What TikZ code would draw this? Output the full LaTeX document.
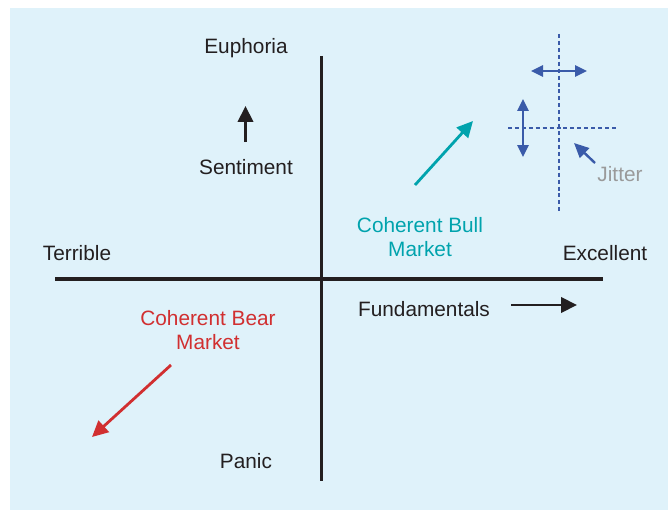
\documentclass[tikz,border=0pt]{standalone}
\usepackage{fontspec}
\setmainfont{Liberation Sans}
\usetikzlibrary{arrows.meta}
\definecolor{bgblue}{HTML}{DFF2FA}
\definecolor{inkblack}{HTML}{231F20}
\definecolor{bullteal}{HTML}{00A3AD}
\definecolor{bearred}{HTML}{D12F30}
\definecolor{jitblue}{HTML}{3A5BA9}
\definecolor{jitgray}{HTML}{9A9A9A}
\tikzset{
  lbl/.style={inner sep=0pt, font=\fontsize{15.6}{18.5}\selectfont, text=inkblack, align=center},
  axis/.style={line width=2.3pt, draw=inkblack},
  bigarrow/.style={line width=2.1pt, -{Triangle[length=12pt,width=11.5pt]}},
  jitarrow/.style={line width=1.2pt, draw=jitblue, {Triangle[length=9pt,width=8.5pt]}-{Triangle[length=9pt,width=8.5pt]}},
  jitdash/.style={line width=0.8pt, draw=jitblue, dash pattern=on 3pt off 2.2pt}
}
\begin{document}
\begin{tikzpicture}[x=0.75pt,y=-0.75pt]
\useasboundingbox (0,0) rectangle (668,510);
\fill[bgblue] (10,8) rectangle (668,510);
% axes
\coordinate (vtop) at (321.5,56);
\coordinate (vbot) at (321.5,481);
\coordinate (hleft) at (55,279);
\coordinate (hright) at (603,279);
\draw[axis] (vtop) -- (vbot);
\draw[axis] (hleft) -- (hright);
% labels
\node[lbl] (euph) at (246,48) {Euphoria};
\node[lbl] (sent) at (246,167) {Sentiment};
\node[lbl] (terr) at (77,253) {Terrible};
\node[lbl] (exc) at (605,253) {Excellent};
\node[lbl] (fund) at (424,309) {Fundamentals};
\node[lbl] (panic) at (246,461) {Panic};
\node[lbl, text=bullteal] (bull) at (420,237) {Coherent Bull\\Market};
\node[lbl, text=bearred] (bear) at (208,330) {Coherent Bear\\Market};
\node[lbl, text=jitgray] (jit) at (620,174) {Jitter};
% arrows
\coordinate (sa0) at (245.5,142);
\coordinate (sa1) at (245.5,106);
\draw[bigarrow, draw=inkblack, fill=inkblack] (sa0) -- (sa1);
\coordinate (fa0) at (511,305);
\coordinate (fa1) at (577,305);
\draw[bigarrow, draw=inkblack, fill=inkblack] (fa0) -- (fa1);
\coordinate (ba0) at (415,185);
\coordinate (ba1) at (473,121);
\draw[bigarrow, draw=bullteal, fill=bullteal] (ba0) -- (ba1);
\coordinate (ra0) at (171,365);
\coordinate (ra1) at (92,437);
\draw[bigarrow, draw=bearred, fill=bearred] (ra0) -- (ra1);
% jitter
\coordinate (jv0) at (559,34);
\coordinate (jv1) at (559,214);
\coordinate (jh0) at (508,128);
\coordinate (jh1) at (618,128);
\draw[jitdash] (jv0) -- (jv1);
\draw[jitdash] (jh0) -- (jh1);
\coordinate (dh0) at (531,71);
\coordinate (dh1) at (587,71);
\draw[jitarrow, fill=jitblue] (dh0) -- (dh1);
\coordinate (dv0) at (523,99);
\coordinate (dv1) at (523,157);
\draw[jitarrow, fill=jitblue] (dv0) -- (dv1);
\coordinate (ja0) at (595,163);
\coordinate (ja1) at (574,143);
\draw[line width=1.8pt, draw=jitblue, fill=jitblue, -{Triangle[length=11pt,width=10pt]}] (ja0) -- (ja1);
\end{tikzpicture}
\end{document}
